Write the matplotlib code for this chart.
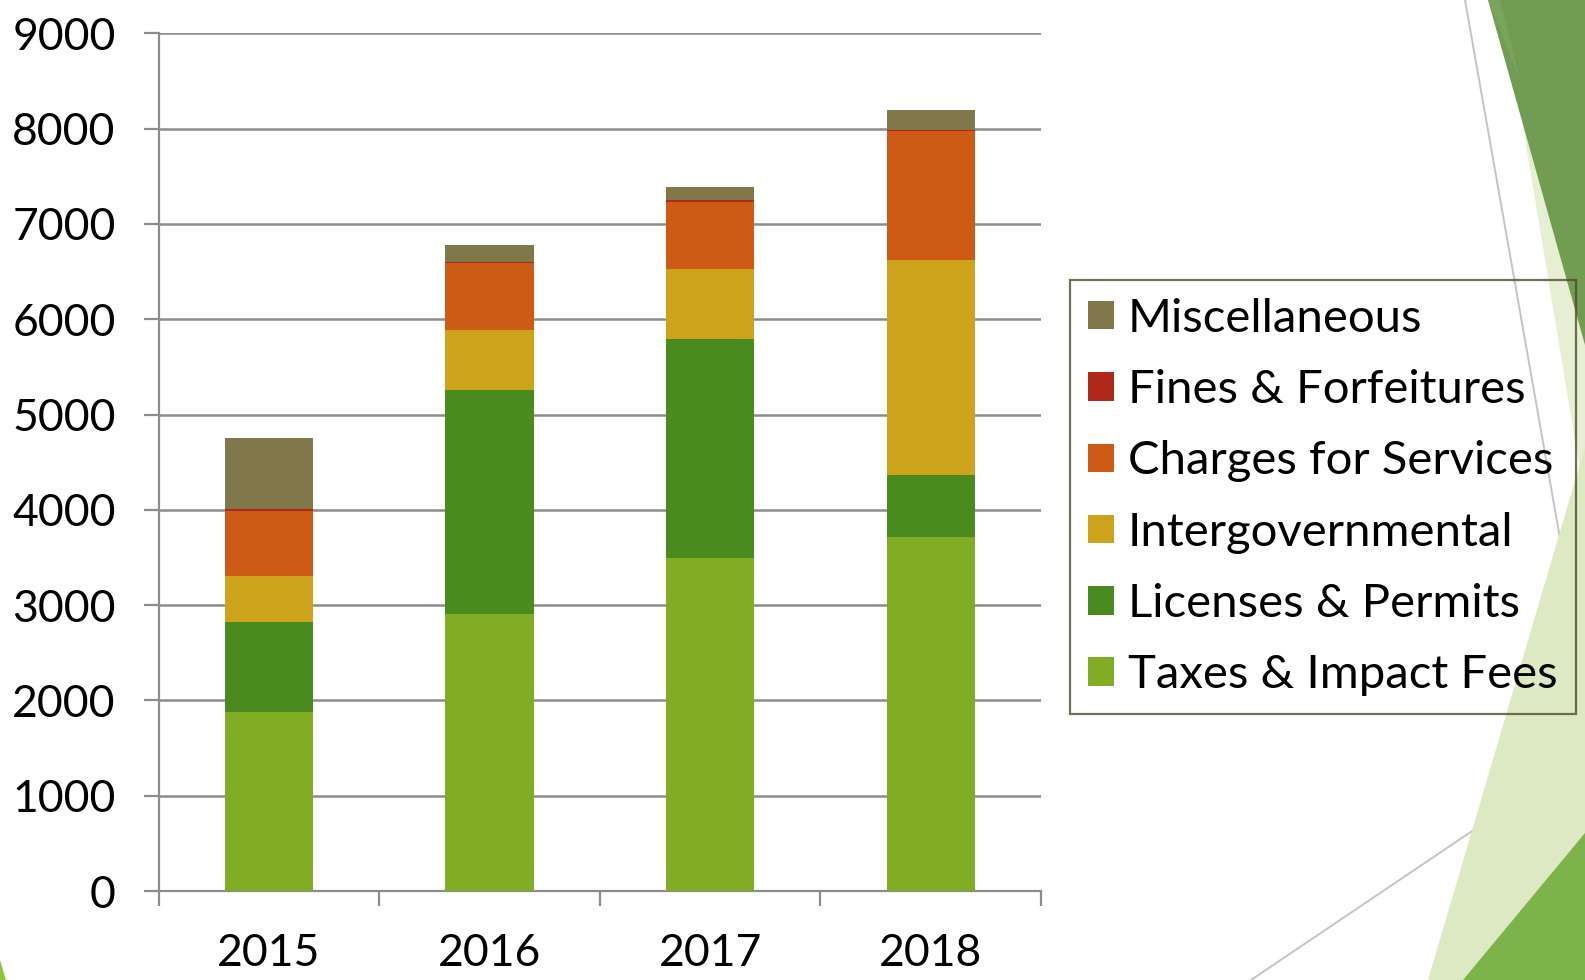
"""
Stacked revenue bars by year, with the slide's green corner decoration.
"""
import numpy as np
import matplotlib.pyplot as plt
from matplotlib.patches import Polygon
from matplotlib.lines import Line2D

years = ['2015', '2016', '2017', '2018']
taxes = [1880, 2905, 3495, 3715]
licenses = [945, 2350, 2300, 655]
intergov = [480, 630, 735, 2250]
charges = [680, 700, 705, 1350]
fines = [25, 20, 15, 20]
misc = [740, 175, 135, 205]

series = [
    ('Taxes & Impact Fees', taxes, '#80ad23'),
    ('Licenses & Permits', licenses, '#4a8b1f'),
    ('Intergovernmental', intergov, '#cca31a'),
    ('Charges for Services', charges, '#cd5a15'),
    ('Fines & Forfeitures', fines, '#b0281a'),
    ('Miscellaneous', misc, '#80784a'),
]

W, H = 1585, 980
fig = plt.figure(figsize=(W / 100, H / 100), dpi=100)
plt.rcParams['font.family'] = ['Lato', 'DejaVu Sans']


def px(pts):
    # pixel coords (origin top-left) -> figure fraction
    return [(x / W, 1 - y / H) for x, y in pts]


# background decoration on the right side
deco = [
    ([(1502, 0), (1585, 0), (1585, 500)], '#e6efd2'),
    ([(1428, 980), (1585, 980), (1585, 447)], '#dde9c2'),
    ([(1463, 980), (1585, 980), (1585, 833)], '#7cb34b'),
    ([(1488, 0), (1585, 0), (1585, 345)], '#719c52'),
    ([(1488, 0), (1500, 0), (1520, 80)], '#7aa45c'),
    ([(0, 960), (6, 980), (0, 980)], '#8cc63f'),
]
for pts, col in deco:
    fig.patches.append(Polygon(px(pts), closed=True, transform=fig.transFigure,
                               facecolor=col, edgecolor='none', zorder=0))
for (x0, y0), (x1, y1) in [((1465, 0), (1585, 680)), ((1251, 980), (1585, 755))]:
    fig.lines.append(Line2D([x0 / W, x1 / W], [1 - y0 / H, 1 - y1 / H],
                            transform=fig.transFigure, color='#c4c4c4', lw=1.4, zorder=0))

ax = fig.add_axes([0.1001, 0.0908, 0.5567, 0.8752])
ax.patch.set_alpha(0)

x = np.arange(len(years))
bottom = np.zeros(len(years))
handles = []
for name, vals, col in series:
    b = ax.bar(x, vals, 0.4, bottom=bottom, color=col, label=name, zorder=3)
    handles.append(b)
    bottom += np.array(vals)

ax.set_xlim(-0.5, 3.5)
ax.set_ylim(0, 9000)
ax.set_yticks(np.arange(0, 9001, 1000))
ax.yaxis.grid(True, color='#8c8c8c', lw=1.8, zorder=0)
ax.set_axisbelow(True)

ax.set_xticks(np.arange(-0.5, 3.6, 1))
ax.set_xticklabels([])
ax.set_xticks(x, minor=True)
ax.set_xticklabels(years, minor=True)
ax.tick_params(axis='x', which='major', length=11, width=1.6, color='#8c8c8c')
ax.tick_params(axis='x', which='minor', length=0, pad=30, labelsize=32)
ax.tick_params(axis='y', length=11, width=1.6, color='#8c8c8c', pad=20, labelsize=32)

for s in ['top', 'right']:
    ax.spines[s].set_visible(False)
for s in ['left', 'bottom']:
    ax.spines[s].set_color('#8c8c8c')
    ax.spines[s].set_linewidth(1.6)

leg = fig.legend(handles[::-1], [s[0] for s in series][::-1],
                 loc='upper left', bbox_to_anchor=(1070 / W, 1 - 280 / H),
                 fontsize=34, frameon=True, fancybox=False,
                 handlelength=0.55, handleheight=0.55, handletextpad=0.3,
                 labelspacing=0.62, borderpad=0.38, borderaxespad=0)
leg.get_frame().set_edgecolor('#4f4a30')
leg.get_frame().set_linewidth(1.6)
leg.get_frame().set_facecolor('none')

fig.savefig('out.png', dpi=100)
